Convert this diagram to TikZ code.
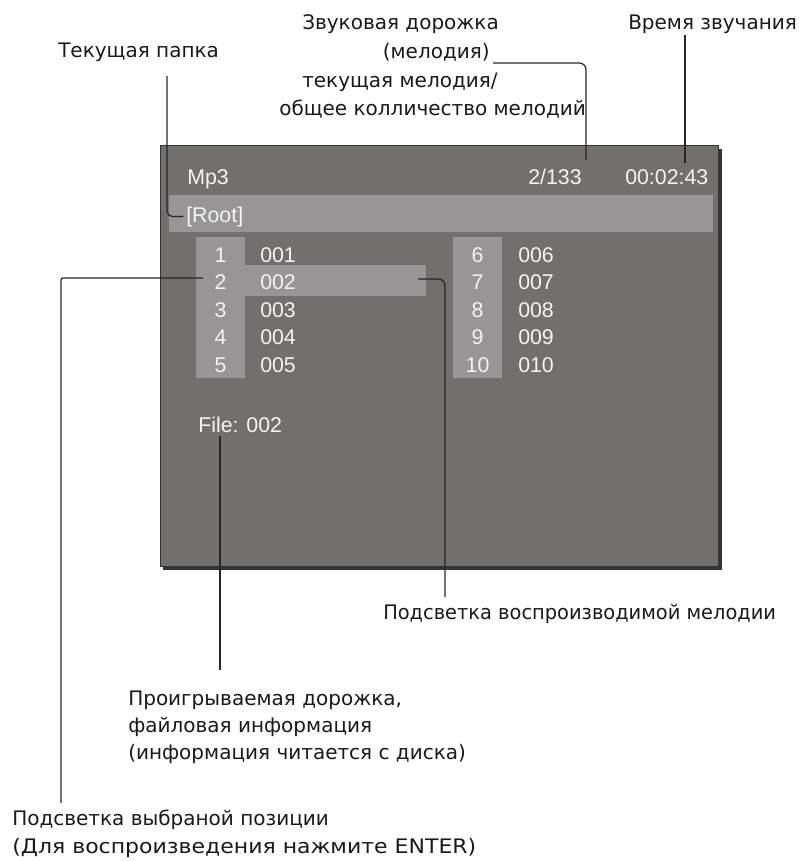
\documentclass[tikz,border=0pt]{standalone}
\usepackage{fontspec}
\setmainfont{Liberation Sans}
\newfontfamily\lblfont{DejaVu Sans}
\definecolor{scrbg}{RGB}{114,112,111}
\definecolor{scrhi}{RGB}{151,149,149}
\definecolor{shadowc}{RGB}{52,52,58}
\definecolor{scrtext}{RGB}{244,244,244}
\begin{document}
\begin{tikzpicture}[x=0.75pt,y=-0.75pt,
  lbl/.style={font=\lblfont\fontsize{15}{18}\selectfont, text=black!90, inner sep=0pt, anchor=base west},
  scr/.style={font=\fontsize{16}{19}\selectfont, text=scrtext, inner sep=0pt, anchor=base west},
  num/.style={font=\fontsize{16}{19}\selectfont, text=scrtext, inner sep=0pt, anchor=base},
  conn/.style={draw=black!85, line width=0.9pt}]
\useasboundingbox (0,0) rectangle (799,861);
% screen
\fill[shadowc] (163,149) rectangle (722,570);
\filldraw[fill=scrbg, draw=black!80, line width=0.6pt] (160,145) rectangle (718,566);
\fill[scrhi] (169,195) rectangle (713,232);
\fill[scrhi] (196,237) rectangle (245,378);
\fill[scrhi] (245,265) rectangle (426,296);
\fill[scrhi] (453,237) rectangle (502,378);
% screen texts
\node[scr] (mp3) at (187,184) {Mp3};
\node[scr] (count) at (528,184) {2/133};
\node[scr] (clock) at (625,184) {00:02:43};
\node[scr] (root) at (186,222) {[Root]};
\node[num] (n1) at (220.5,262) {1};
\node[num] (n2) at (220.5,289.5) {2};
\node[num] (n3) at (220.5,317) {3};
\node[num] (n4) at (220.5,344.5) {4};
\node[num] (n5) at (220.5,372) {5};
\node[scr] (f1) at (260,262) {001};
\node[scr] (f2) at (260,289.5) {002};
\node[scr] (f3) at (260,317) {003};
\node[scr] (f4) at (260,344.5) {004};
\node[scr] (f5) at (260,372) {005};
\node[num] (n6) at (477.5,262) {6};
\node[num] (n7) at (477.5,289.5) {7};
\node[num] (n8) at (477.5,317) {8};
\node[num] (n9) at (477.5,344.5) {9};
\node[num] (n10) at (477.5,372) {10};
\node[scr] (f6) at (518,262) {006};
\node[scr] (f7) at (518,289.5) {007};
\node[scr] (f8) at (518,317) {008};
\node[scr] (f9) at (518,344.5) {009};
\node[scr] (f10) at (518,372) {010};
\node[scr] (file) at (198,432) {File: 002};
% labels
\node[lbl] (folder) at (58,57) {Текущая папка};
\node[lbl] (trk1) at (302,29) {Звуковая дорожка};
\node[lbl,anchor=base east] (trk2) at (490,58) {(мелодия)};
\node[lbl] (trk3) at (302,87) {текущая мелодия/};
\node[lbl] (trk4) at (279,115) {общее колличество мелодий};
\node[lbl] (time) at (628,29) {Время звучания};
\node[lbl] (hiplay) at (383,619) {\scalebox{0.97}[1]{Подсветка воспроизводимой мелодии}};
\node[lbl] (play1) at (128,705) {Проигрываемая дорожка,};
\node[lbl] (play2) at (128,732) {файловая информация};
\node[lbl] (play3) at (128,759) {(информация читается с диска)};
\node[lbl] (sel1) at (12,825) {Подсветка выбраной позиции};
\node[lbl] (sel2) at (12,853) {\scalebox{1.1}[1]{(Для воспроизведения нажмите ENTER)}};
% connector ends
\coordinate (cf0) at (167,76);
\coordinate (ct0) at (493,63);
\coordinate (ct1) at (586,160);
\coordinate (cc0) at (685,35);
\coordinate (cc1) at (685,163);
\coordinate (cs0) at (203,278);
\coordinate (cs1) at (61,803);
\coordinate (cp0) at (418,279);
\coordinate (cp1) at (445,597);
\coordinate (ci0) at (220,436);
\coordinate (ci1) at (220,670);
% connectors
\draw[conn,rounded corners=4pt] (cf0) |- ([xshift=-2pt]root.west);
\draw[conn,rounded corners=5pt] (ct0) -| (ct1);
\draw[conn] (cc0) -- (cc1);
\draw[conn,rounded corners=1.5pt] (cs0) -| (cs1);
\draw[conn,rounded corners=5pt] (cp0) -| (cp1);
\draw[conn] (ci0) -- (ci1);
\end{tikzpicture}
\end{document}
